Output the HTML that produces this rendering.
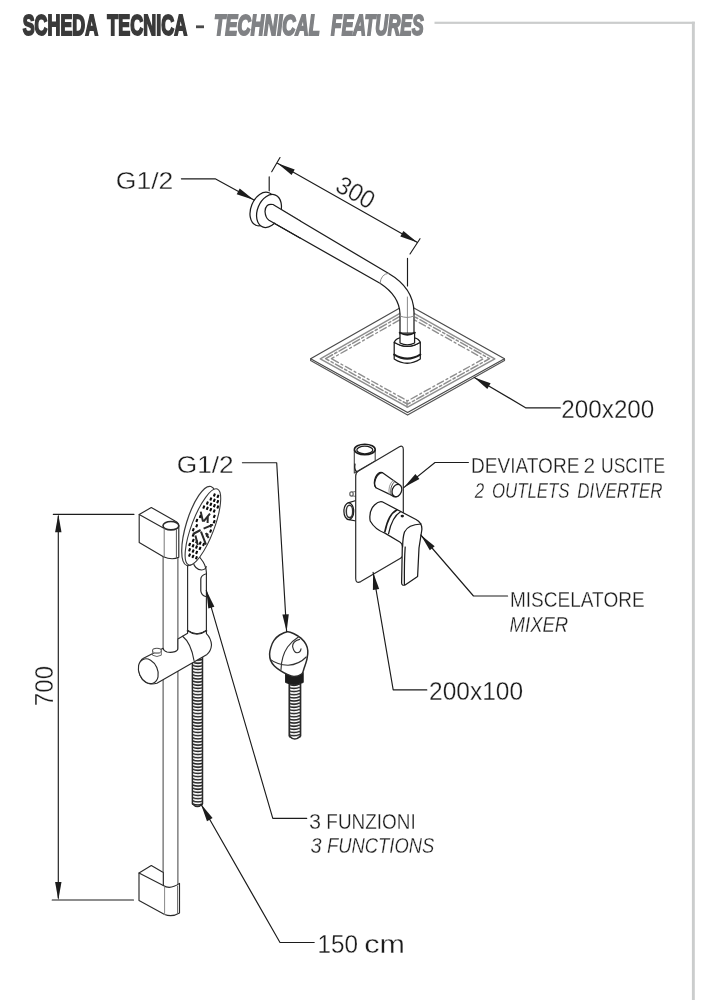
<!DOCTYPE html>
<html><head><meta charset="utf-8">
<style>
html,body{margin:0;padding:0;background:#fff;}
body{width:719px;height:1000px;overflow:hidden;font-family:"Liberation Sans",sans-serif;}
svg{display:block;position:absolute;left:0;top:0;will-change:transform;}
.k{fill:none;stroke:#1c1c1c;stroke-width:1.25;stroke-linecap:round;stroke-linejoin:round;}
.kw{fill:#fff;stroke:#1c1c1c;stroke-width:1.25;stroke-linecap:round;stroke-linejoin:round;}
.t{fill:none;stroke:#1c1c1c;stroke-width:1.15;stroke-linecap:round;stroke-linejoin:round;}
.g{fill:none;stroke:#8a8a8a;stroke-width:1;stroke-linecap:round;stroke-linejoin:round;}
.a{fill:#1c1c1c;stroke:none;}
text{font-family:"Liberation Sans",sans-serif;fill:#1c1c1c;}
#rail .k,#rail .kw{stroke:#2a2a2a;stroke-width:1.15;}
#txt text,.thin{stroke:#fff;stroke-width:0.3;}
</style></head><body>
<svg width="719" height="1000" viewBox="0 0 719 1000">
<defs>
<pattern id="coil" x="0" y="0" width="12" height="3.15" patternUnits="userSpaceOnUse">
<rect x="0" y="0" width="12" height="3.15" fill="#fff"/>
<path d="M0 0.4 Q6 3.2 12 0.4" fill="none" stroke="#222" stroke-width="1.45"/>
</pattern>
</defs>

<!-- HEADER -->
<g id="hdr">
<g style="fill:#3a3a3a;stroke:#3a3a3a;stroke-width:2;stroke-linejoin:miter" font-size="29.4" font-weight="bold">
<text x="22.7" y="35.1" style="fill:#3a3a3a" textLength="75.4" lengthAdjust="spacingAndGlyphs">SCHEDA</text>
<text x="107.3" y="35.1" style="fill:#3a3a3a" textLength="79.8" lengthAdjust="spacingAndGlyphs">TECNICA</text>
</g>
<rect x="196" y="25.4" width="8" height="2.8" fill="#4a4a4a"/>
<g style="stroke:#808285;stroke-width:2" font-size="29.4" font-weight="bold" font-style="italic">
<text x="214" y="35.1" style="fill:#808285" textLength="106" lengthAdjust="spacingAndGlyphs">TECHNICAL</text>
<text x="331" y="35.1" style="fill:#808285" textLength="92.6" lengthAdjust="spacingAndGlyphs">FEATURES</text>
</g>
<rect x="434.5" y="21.7" width="260.3" height="2.2" fill="#cbcdcd"/>
<rect x="691.9" y="21.7" width="2.9" height="980" fill="#cbcdcd"/>
</g>

<!-- SHOWER ARM -->
<g id="arm">
<!-- head plate -->
<path d="M310.6 358.8 L406.8 304.0 L504.5 358.8 L407.6 412.6 Z" fill="#fff" stroke="#4a4a4a" stroke-width="1.2" stroke-linejoin="round"/>
<path class="g" d="M310.6 358.8 V360.4 L407.6 415.1 L504.5 360.4 V358.8" style="stroke:#555;stroke-width:1.2"/>
<path class="g" d="M320.3 358.8 L406.9 309.4 L494.8 358.8 L407.6 407.2 Z" style="stroke:#8e8e8e;stroke-width:1.5"/>
<path class="g" d="M325.6 358.7 L406.9 312.4 L489.5 358.7 L407.6 404.2 Z" style="stroke:#8e8e8e;stroke-width:1.5" stroke-dasharray="8 2.5 2.5 2.5"/>
<path class="g" d="M331.4 358.7 L407.0 315.7 L483.7 358.7 L407.6 400.9 Z" style="stroke:#8e8e8e;stroke-width:1.4" stroke-dasharray="7 3 2 3" stroke-dashoffset="4"/>
<path class="g" d="M407.0 400.9 V407.2" style="stroke:#8e8e8e;stroke-width:1.3"/>
<!-- pipe -->
<path class="kw" d="M270 203 L388.3 273.3 Q413.5 288 414 312 V334 H400 V314 Q399.5 296 380 283.3 L265 218 Z"/>
<path class="g" d="M380 283.3 Q381 274 388.3 273.3 M400 316 Q407 319 414 316"/>
<path class="g" d="M407.4 297 V343" style="stroke:#8a8a8a"/>
<!-- connector -->
<path class="kw" d="M394.2 342.3 Q407.2 350.5 420.3 342.3 V359 Q407.2 367.5 394.2 359 Z"/>
<path class="kw" d="M394.2 342.3 Q395.5 338.8 400 337.8 L414.5 337.8 Q419 338.8 420.3 342.3 Q407.2 350.5 394.2 342.3 Z"/>
<path class="kw" d="M400 333 V343 Q407.2 346.6 414.6 343 V333 Z"/>
<path class="k" d="M399.6 332.6 Q407.3 337.2 415 332.6" style="stroke-width:1.7"/>
<path class="k" d="M394.2 354.6 Q407.2 362.6 420.3 354.6" style="stroke-width:2.1"/>
<!-- flange -->
<ellipse class="kw" cx="262.5" cy="209" rx="11.5" ry="17.5" transform="rotate(22 262.5 209)"/>
<ellipse class="kw" cx="269" cy="211" rx="11.5" ry="17.2" transform="rotate(22 269 211)"/>
<path class="kw" d="M272 203.5 Q264.5 203.5 265 212 Q266 219.5 268 218.8 L300 237 L300 220 Z" style="stroke:none"/>
<path class="k" d="M300 220.8 L273 204.5 Q265.5 203 265 211.5 Q265.5 218 269 220.2 L300 238"/>
<!-- dimension 300 -->
<path class="t" d="M280 157.5 L271.7 171.7 M269.2 176.7 V190.8"/>
<path class="t" d="M420 238.7 L410 254 M407.5 258.3 V286"/>
<path class="t" d="M277.5 163.3 L417.5 242.5"/>
<path class="a" d="M277.5 163.3 L294.7 169.4 L291.6 174.9 Z"/><path class="a" d="M417.5 242.5 L400.3 236.4 L403.4 230.9 Z"/>
<text class="thin" x="0" y="0" font-size="25.4" transform="translate(334.1 190.2) rotate(29.3)" textLength="39.8" lengthAdjust="spacingAndGlyphs">300</text>
<!-- G1/2 -->
<path class="t" d="M181.4 178.8 H215.2 L254 200"/>
<path class="a" d="M254.0 200.0 L236.7 194.2 L239.7 188.6 Z"/>
<!-- 200x200 -->
<path class="t" d="M474.3 377.4 L526 407.9 H560.3"/>
<path class="a" d="M474.3 377.4 L490.6 383.2 L487.3 388.9 Z"/>
</g>

<!-- MIXER -->
<g id="mixer">
<!-- top pipe -->
<path class="kw" d="M354.3 450 V473 L375.2 461 V450 Z" style="stroke-width:1.1;stroke:#444"/>
<ellipse class="kw" cx="364.8" cy="449.5" rx="10.4" ry="5.3" style="stroke-width:1.6"/>
<ellipse class="kw" cx="364.8" cy="450" rx="8" ry="3.8"/>
<path class="k" d="M355 464 Q354 470 357 472"/>
<!-- left port -->
<path class="kw" d="M349 503 L356 500.5 V520 L349 519.5 Z" style="stroke:none"/>
<path class="k" d="M348 502.8 L356 500.5 M349 519.6 L356 521"/>
<ellipse class="kw" cx="348.8" cy="511.2" rx="4.9" ry="8.3"/>
<ellipse class="kw" cx="349.5" cy="511.4" rx="3.2" ry="6.2" style="stroke:#333;stroke-width:1.5"/>
<path class="g" d="M351.6 492.2 L356 491.4 M351.6 495.8 L356 496.4" style="stroke:#777"/>
<ellipse class="kw" cx="351.5" cy="494" rx="1.7" ry="2.1" style="stroke:#666"/>
<!-- plate -->
<path class="kw" d="M355.7 476 Q355.7 472.5 358.5 471 L399 447 Q403.3 444.6 403.3 449.5 V553.5 Q403.3 556.6 400.5 558.3 L360.8 581.6 Q355.7 584 355.7 578.5 Z" style="stroke:#2a2a2a;stroke-width:1.2"/>
<!-- diverter knob -->
<path class="kw" d="M382.2 472.6 L398.8 484.2 Q403 490 398 496 Q395 498 391.9 495.4 L375.9 487.7 Q372.8 484 375.6 477 Q378.5 471.6 382.2 472.6 Z"/>
<path class="k" d="M382.2 472.6 Q378 473 375.6 479 Q373.5 485 375.9 487.7" />
<ellipse class="kw" cx="396.9" cy="490.5" rx="4.6" ry="6.4" transform="rotate(22 396.9 490.5)"/>
<path class="g" d="M394.6 481.6 Q389.5 486 391 494.6" style="stroke:#555"/>
<path class="g" d="M393 480.6 Q387.8 485 389.2 494" style="stroke:#999"/>
<!-- mixer body -->
<path class="kw" d="M382.2 501.8 L416 519.5 Q422.5 523 421.8 530 L419 548 L417.6 576.5 L405.1 585 Q401.8 586 401.6 583 L402.3 547 Q402.5 543.5 400.2 542.2 L384.9 533.1 Q375 529.5 370.2 521 Q368.5 511 374.5 505 Q378.5 501 382.2 501.8 Z"/>
<path class="k" d="M396.8 510 Q388.5 514 384.9 531.7" style="stroke-width:1.7"/>
<path class="k" d="M400.5 511.8 Q392 517 388.6 533.6"/>
<path class="k" d="M421 524 Q408 524.5 404.5 532 Q402.8 537 402.6 547"/>
<path class="k" d="M404.4 584.5 Q404.2 560 405.2 547"/>
<ellipse class="a" cx="402.3" cy="516.1" rx="1.7" ry="1.3"/>
<!-- leaders -->
<path class="t" d="M403.8 487.6 L435 462.5 H468.4"/>
<path class="a" d="M403.8 487.6 L415.4 474.1 L419.4 479.1 Z"/>
<path class="t" d="M420.8 535 L473.5 596 H507.6"/>
<path class="a" d="M420.8 535.0 L434.7 546.2 L429.8 550.3 Z"/>
<path class="t" d="M373.1 572.3 L393.2 689.9 H426.8"/>
<path class="a" d="M373.1 572.3 L379.2 589.0 L372.9 590.1 Z"/>
</g>

<!-- RAIL SET -->
<g id="rail">
<!-- dimension 700 -->
<path class="t" d="M53.3 514.3 H134 M52.2 900 H133.5 M58.3 516 V898"/>
<path class="a" d="M58.3 514.3 L61.5 532.3 L55.1 532.3 Z"/><path class="a" d="M58.3 900.0 L55.1 882.0 L61.5 882.0 Z"/>
<text class="thin" x="0" y="0" font-size="26" transform="translate(52.9 706.3) rotate(-90)" textLength="40.4" lengthAdjust="spacingAndGlyphs">700</text>

<!-- rail tube -->
<path class="kw" d="M163.1 550 V890 H177.9 V550 Z" style="stroke-width:1.05;stroke:#4a4a4a"/>

<!-- top bracket -->
<path class="kw" d="M139.2 514.6 L151.3 507.5 L175.5 521.3 Q178.8 523 178.8 526 V557.3 Q172 560.5 163.4 556.8 L139.2 542.6 Z"/>
<path class="k" d="M139.2 514.6 L163.4 528"/>
<ellipse class="kw" cx="170.9" cy="525.7" rx="7.9" ry="4.2" style="stroke-width:1.6"/>
<path class="g" d="M164.2 529 V556.8" style="stroke:#777"/>
<path class="g" d="M176.4 529.5 V557.6" style="stroke:#555"/>

<!-- bottom bracket -->
<path class="kw" d="M139 873 L151.3 865.6 L163.3 872.4 V885.5 Q170 890 179.5 883.4 V913 Q172 917.5 164.6 914.5 L139 900.5 Z"/>
<path class="k" d="M139 873 L163.3 885.5"/>
<path class="g" d="M164.6 887 V914.5" style="stroke:#888"/>
<path class="g" d="M177.6 886 V913.6" style="stroke:#666"/>

<!-- hose from slider -->
<rect x="192" y="655" width="10.8" height="150.8" fill="url(#coil)" stroke="none"/>
<path class="k" d="M192.4 655 V803.8 Q197.4 809.4 202.5 803.8 V655" style="stroke-width:1.5"/>

<!-- hand shower handle -->
<path class="kw" d="M187.6 566 V630.8 Q197 637.6 206.4 630.8 V577 Q207 568 203.2 562 L196 552 L189 562 Z"/>
<path class="k" d="M187.6 630.8 Q197 637.6 206.4 630.8" style="stroke-width:1.8"/>
<path class="k" d="M205.6 574 Q201 575.5 200.8 579 V591 Q201.5 595.5 205.6 596.5" style="stroke-width:1.2"/>
<path class="k" d="M193.2 562.5 Q195 569.5 201.5 570 Q206 569.5 206.3 566.5" style="stroke-width:1.1"/>

<!-- shower head -->
<ellipse class="kw" cx="198.9" cy="526" rx="12.8" ry="41.3" transform="rotate(17 198.9 526)" style="stroke:#3a3a3a;stroke-width:1.2"/>
<ellipse class="kw" cx="202.9" cy="526.9" rx="11.2" ry="40.5" transform="rotate(20.8 202.9 526.9)" style="stroke:#3a3a3a;stroke-width:1.1"/>
<g transform="translate(203.3 526.9) rotate(20.8)" fill="#0a0a0a"><rect x="-2.0" y="-35.4" width="2.1" height="3.3" rx="0.5"/><rect x="1.8" y="-35.4" width="2.1" height="3.3" rx="0.5"/><rect x="-3.9" y="-30.4" width="2.1" height="3.3" rx="0.5"/><rect x="-0.2" y="-30.4" width="2.1" height="3.3" rx="0.5"/><rect x="3.5" y="-30.4" width="2.1" height="3.3" rx="0.5"/><rect x="-5.7" y="-25.4" width="2.1" height="3.3" rx="0.5"/><rect x="-2.0" y="-25.4" width="2.1" height="3.3" rx="0.5"/><rect x="1.8" y="-25.4" width="2.1" height="3.3" rx="0.5"/><rect x="5.5" y="-25.4" width="2.1" height="3.3" rx="0.5"/><rect x="-7.6" y="-20.4" width="2.1" height="3.3" rx="0.5"/><rect x="-3.9" y="-20.4" width="2.1" height="3.3" rx="0.5"/><rect x="-0.2" y="-20.4" width="2.1" height="3.3" rx="0.5"/><rect x="3.5" y="-20.4" width="2.1" height="3.3" rx="0.5"/><rect x="5.5" y="-15.4" width="2.1" height="3.3" rx="0.5"/><rect x="-7.6" y="-10.4" width="2.1" height="3.3" rx="0.5"/><rect x="7.3" y="-10.4" width="2.1" height="3.3" rx="0.5"/><rect x="-9.4" y="-5.4" width="2.1" height="3.3" rx="0.5"/><rect x="5.5" y="-5.4" width="2.1" height="3.3" rx="0.5"/><rect x="-7.6" y="-0.4" width="2.1" height="3.3" rx="0.5"/><rect x="7.3" y="-0.4" width="2.1" height="3.3" rx="0.5"/><rect x="-9.4" y="4.6" width="2.1" height="3.3" rx="0.5"/><rect x="5.5" y="4.6" width="2.1" height="3.3" rx="0.5"/><rect x="-7.6" y="9.6" width="2.1" height="3.3" rx="0.5"/><rect x="-5.7" y="14.6" width="2.1" height="3.3" rx="0.5"/><rect x="-2.0" y="14.6" width="2.1" height="3.3" rx="0.5"/><rect x="1.8" y="14.6" width="2.1" height="3.3" rx="0.5"/><rect x="5.5" y="14.6" width="2.1" height="3.3" rx="0.5"/><rect x="-7.6" y="19.6" width="2.1" height="3.3" rx="0.5"/><rect x="-3.9" y="19.6" width="2.1" height="3.3" rx="0.5"/><rect x="-0.2" y="19.6" width="2.1" height="3.3" rx="0.5"/><rect x="3.5" y="19.6" width="2.1" height="3.3" rx="0.5"/><rect x="-5.7" y="24.6" width="2.1" height="3.3" rx="0.5"/><rect x="-2.0" y="24.6" width="2.1" height="3.3" rx="0.5"/><rect x="1.8" y="24.6" width="2.1" height="3.3" rx="0.5"/><rect x="-3.9" y="29.6" width="2.1" height="3.3" rx="0.5"/><rect x="-0.2" y="29.6" width="2.1" height="3.3" rx="0.5"/><rect x="3.5" y="29.6" width="2.1" height="3.3" rx="0.5"/></g>
<path class="k" d="M200.7 511.6 L203 521.6 M210 513.6 L203.6 521.4 M207.8 516.5 L207.6 523 M193 534 L200.6 530 M203.6 528.6 L213 524.6 M201 531.6 L206 544.6 M195.4 535.6 L197.8 545 M205.8 533 L208.6 538" style="stroke-width:2;stroke-linecap:butt"/>

<!-- slider -->
<path class="kw" d="M143 658.6 L163.1 648.3 Q163.4 651 167 652 Q171.3 652.8 175 651.6 Q177.9 650.6 177.9 648.6 V638.9 L187.6 633.2 V630.8 Q197 637.6 206.4 630.8 V633.6 Q211 638 211.5 645 Q211 651 207 654.4 L156.9 683.2 Q148 686 142 679 Q136.8 671 139.6 664 Q141 659.5 143 658.6 Z"/>
<ellipse class="kw" cx="148.3" cy="671.2" rx="9.3" ry="12.9" transform="rotate(-24 148.3 671.2)"/>
<path class="k" d="M182.6 636.3 Q191 643 194 660.5"/>
<path class="g" d="M152.5 651 V655.2 Q157 657.8 161.3 655.2 V651" style="stroke:#666"/>
<ellipse class="kw" cx="156.9" cy="650.7" rx="4.4" ry="2.4" style="stroke:#555;stroke-width:1.1"/>
<path class="g" d="M152.6 652.4 Q157 654.6 161.2 652.4" style="stroke:#999"/>

<!-- wall elbow -->
<rect x="289" y="684" width="11.6" height="53.5" fill="url(#coil)" stroke="none"/>
<path class="k" d="M289.3 684 V736 Q294.8 742 300.5 736 V684" style="stroke-width:1.7"/>
<path class="a" d="M285.6 672.5 H303.2 V682.5 Q294.5 686.5 285.6 682.5 Z" style="stroke:#1c1c1c;stroke-width:1"/>
<path class="kw" d="M287.5 631.8 C290.0 631.6 292.1 632.9 294.4 634.0 C296.7 635.1 299.3 636.7 301.2 638.4 C303.1 640.1 304.9 642.3 306.0 644.4 C307.1 646.5 307.6 648.4 307.8 650.8 C308.0 653.2 307.6 655.9 307.0 658.8 C306.4 661.7 304.9 665.9 304.0 668.4 C303.1 670.9 303.3 672.7 301.6 674.0 C299.9 675.3 296.5 676.4 294.0 676.4 C291.5 676.4 288.7 675.0 286.4 674.0 C284.1 673.0 282.4 671.9 280.4 670.6 C278.4 669.3 276.0 667.7 274.4 666.0 C272.8 664.3 271.4 662.4 270.6 660.4 C269.8 658.4 269.6 656.1 269.6 654.0 C269.6 651.9 270.1 649.9 270.8 647.6 C271.5 645.3 272.5 642.5 274.0 640.4 C275.5 638.3 277.4 636.4 279.6 635.0 C281.9 633.6 285.0 632.0 287.5 631.8 Z" style="stroke-width:1.5"/>
<path class="k" d="M270.6 659.6 Q277 664.6 288 665.2 Q299 664.6 306.2 657" style="stroke-width:1.15;stroke:#333"/>
<path class="k" d="M281 669.6 Q281.4 656 287.6 647 Q292 641 298.4 637" style="stroke-width:1.15;stroke:#333"/>
<path class="k" d="M299.6 639.4 Q292.4 641.4 292.6 646.6 Q294 652.6 297 652.8 Q300.4 652.6 301 648.8" style="stroke-width:1.15;stroke:#333"/>

<!-- leaders -->
<path class="t" d="M242.4 462.7 H276.7 L286.6 631.4"/>
<path class="a" d="M286.6 631.4 L282.4 614.6 L288.8 614.2 Z"/>
<path class="t" d="M206.3 590.3 L272.8 818.4 H306.7"/>
<path class="a" d="M206.3 590.3 L214.4 606.7 L208.3 608.5 Z"/>
<path class="t" d="M200.9 804 L280 942.5 H314.2"/>
<path class="a" d="M200.9 804.0 L212.6 818.0 L207.0 821.2 Z"/>
</g>
<g id="txt">
<text id="g1" x="115.78" y="188.80" font-size="23.80" textLength="57.54" lengthAdjust="spacingAndGlyphs">G1/2</text>
<text id="g2" x="176.71" y="472.50" font-size="23.80" textLength="57.01" lengthAdjust="spacingAndGlyphs">G1/2</text>
<text id="p200" x="561.36" y="418.00" font-size="25.80" textLength="92.95" lengthAdjust="spacingAndGlyphs">200x200</text>
<text id="dev" x="470.92" y="473.20" font-size="21.50" textLength="108.50" lengthAdjust="spacingAndGlyphs">DEVIATORE</text>
<text id="dev2" x="583.51" y="473.20" font-size="21.50" textLength="11.67" lengthAdjust="spacingAndGlyphs">2</text>
<text id="usc" x="601.11" y="473.20" font-size="21.50" textLength="63.94" lengthAdjust="spacingAndGlyphs">USCITE</text>
<text id="o2" x="474.67" y="497.50" font-size="21.50" font-style="italic" textLength="9.46" lengthAdjust="spacingAndGlyphs">2</text>
<text id="out" x="491.99" y="497.50" font-size="21.50" font-style="italic" textLength="77.48" lengthAdjust="spacingAndGlyphs">OUTLETS</text>
<text id="div" x="577.24" y="497.50" font-size="21.50" font-style="italic" textLength="85.35" lengthAdjust="spacingAndGlyphs">DIVERTER</text>
<text id="misc" x="509.95" y="606.90" font-size="21.50" textLength="134.71" lengthAdjust="spacingAndGlyphs">MISCELATORE</text>
<text id="mix" x="509.62" y="632.00" font-size="21.50" font-style="italic" textLength="58.62" lengthAdjust="spacingAndGlyphs">MIXER</text>
<text id="p100" x="429.10" y="700.00" font-size="25.80" textLength="93.96" lengthAdjust="spacingAndGlyphs">200x100</text>
<text id="f3" x="309.09" y="828.60" font-size="21.50" textLength="12.05" lengthAdjust="spacingAndGlyphs">3</text>
<text id="funz" x="326.37" y="828.60" font-size="21.50" textLength="89.44" lengthAdjust="spacingAndGlyphs">FUNZIONI</text>
<text id="f3i" x="310.50" y="853.00" font-size="21.50" font-style="italic" textLength="11.12" lengthAdjust="spacingAndGlyphs">3</text>
<text id="func" x="326.99" y="853.00" font-size="21.50" font-style="italic" textLength="107.25" lengthAdjust="spacingAndGlyphs">FUNCTIONS</text>
<text id="c150" x="317.44" y="953.00" font-size="25.80" textLength="40.52" lengthAdjust="spacingAndGlyphs">150</text>
<text id="cm" x="364.30" y="953.00" font-size="25.80" textLength="40.69" lengthAdjust="spacingAndGlyphs">cm</text>
</g>
</svg>
</body></html>
